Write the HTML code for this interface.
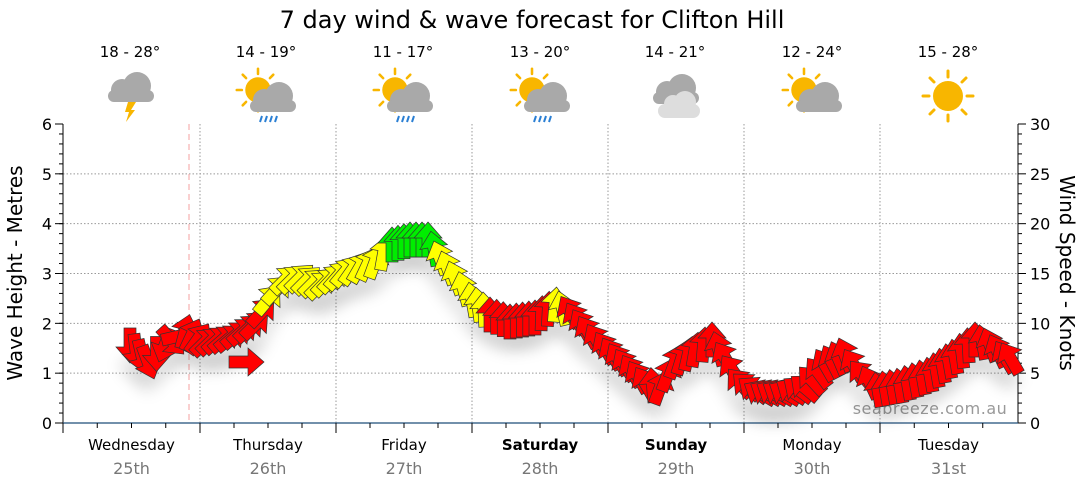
<!DOCTYPE html>
<html><head><meta charset="utf-8"><style>
body{margin:0;background:#fff;width:1080px;height:490px;overflow:hidden}
svg{display:block;font-family:"DejaVu Sans","Liberation Sans",sans-serif}
</style></head><body>
<svg id="s" width="1080" height="490" viewBox="0 0 1080 490">
<defs>
<filter id="sh" x="-50%" y="-50%" width="200%" height="200%"><feGaussianBlur stdDeviation="6"/></filter>
<g id="sun"><circle r="15" fill="#f8b600"/><g stroke="#f8b600" stroke-width="3" stroke-linecap="round">
<line x1="0" y1="-19" x2="0" y2="-25"/><line x1="0" y1="19" x2="0" y2="25"/><line x1="-19" y1="0" x2="-25" y2="0"/><line x1="19" y1="0" x2="25" y2="0"/>
<line x1="14" y1="14" x2="18" y2="18"/><line x1="-14" y1="-14" x2="-18" y2="-18"/><line x1="14" y1="-14" x2="18" y2="-18"/><line x1="-14" y1="14" x2="-18" y2="18"/></g></g>
<g id="cloud" fill="#a9a9a9"><circle cx="-8" cy="0" r="11"/><circle cx="7" cy="-4" r="14"/><rect x="-22" y="0" width="46" height="12" rx="6"/></g>
</defs>
<text x="532" y="28" text-anchor="middle" font-size="24" fill="#000">7 day wind &amp; wave forecast for Clifton Hill</text>
<g id="g"></g>
</svg>
<script>
var s=document.getElementById('g'),h='';
var L=63,R=1018,T=124,B=423;
for(var i=1;i<6;i++){var y=B-i*(B-T)/6;h+='<line x1="'+L+'" x2="'+R+'" y1="'+y+'" y2="'+y+'" stroke="#999" stroke-dasharray="1.5,2"/>';}
var days=[63,200,336,472,608,744,880,1017];
for(var i=1;i<7;i++)h+='<line x1="'+days[i]+'" x2="'+days[i]+'" y1="'+T+'" y2="'+B+'" stroke="#999" stroke-dasharray="1.5,2"/>';
h+='<line x1="189" x2="189" y1="'+T+'" y2="'+B+'" stroke="#f4a0a0" stroke-dasharray="6,4"/>';
h+='<line x1="'+L+'" x2="'+L+'" y1="'+T+'" y2="'+B+'" stroke="#000"/><line x1="'+R+'" x2="'+R+'" y1="'+T+'" y2="'+B+'" stroke="#000"/>';
h+='<line x1="'+L+'" x2="'+R+'" y1="'+B+'" y2="'+B+'" stroke="#1f4e79" stroke-width="1.2"/>';
for(var i=0;i<=6;i++){var y=B-i*(B-T)/6;h+='<text x="52" y="'+(y+6)+'" text-anchor="end" font-size="16">'+i+'</text><line x1="'+(L-8)+'" x2="'+L+'" y1="'+y+'" y2="'+y+'" stroke="#000"/>';}
for(var i=0;i<=30;i++){var y=B-i*(B-T)/30;h+='<line x1="'+(L-4)+'" x2="'+L+'" y1="'+y+'" y2="'+y+'" stroke="#000"/><line x1="'+R+'" x2="'+(R+(i%5?4:8))+'" y1="'+y+'" y2="'+y+'" stroke="#000"/>';
 if(i%5==0)h+='<text x="1030" y="'+(y+6)+'" font-size="16">'+i+'</text>';}
for(var d=0;d<7;d++){for(var q=0;q<4;q++){var x=days[d]+q*(days[d+1]-days[d])/4;h+='<line x1="'+x+'" x2="'+x+'" y1="'+B+'" y2="'+(B+(q?5:10))+'" stroke="#000"/>';}}
var dn=['Wednesday','Thursday','Friday','Saturday','Sunday','Monday','Tuesday'],dd=['25th','26th','27th','28th','29th','30th','31st'];
for(var d=0;d<7;d++){var cx=(days[d]+days[d+1])/2;h+='<text x="'+cx+'" y="450" text-anchor="middle" font-size="15"'+(d==3||d==4?' font-weight="bold"':'')+'>'+dn[d]+'</text><text x="'+cx+'" y="474" text-anchor="middle" font-size="16" fill="#777">'+dd[d]+'</text>';}
h+='<text transform="translate(22,273) rotate(-90)" text-anchor="middle" font-size="20">Wave Height - Metres</text>';
h+='<text transform="translate(1060,273) rotate(90)" text-anchor="middle" font-size="20">Wind Speed - Knots</text>';
h+='<text x="930" y="414" text-anchor="middle" font-size="16" fill="#999" letter-spacing="0.5">seabreeze.com.au</text>';
var temps=['18 - 28°','14 - 19°','11 - 17°','13 - 20°','14 - 21°','12 - 24°','15 - 28°'],cxs=[130,266,403,540,675,812,948];
for(var d=0;d<7;d++){var c=cxs[d];h+='<text x="'+c+'" y="57" text-anchor="middle" font-size="15">'+temps[d]+'</text>';
 if(d==0)h+='<use href="#cloud" transform="translate('+c+',90)"/><polygon points="'+(c-2)+',102 '+(c+6)+',102 '+(c+1)+',110 '+(c+5)+',110 '+(c-4)+',122 '+(c-1)+',112 '+(c-5)+',112" fill="#f8b600"/>';
 else if(d==4)h+='<use href="#cloud" transform="translate('+c+',92)"/><g fill="#ddd"><circle cx="'+(c-2)+'" cy="104" r="9"/><circle cx="'+(c+10)+'" cy="102" r="11"/><rect x="'+(c-17)+'" y="104" width="42" height="14" rx="7"/></g>';
 else if(d==6)h+='<use href="#sun" transform="translate('+c+',96)"/>';
 else {h+='<use href="#sun" transform="translate('+(c-8)+',90) scale(0.85)"/><use href="#cloud" transform="translate('+(c+6)+',100)"/>';
  if(d<4)for(var k=0;k<4;k++)h+='<line x1="'+(c-4+k*5)+'" y1="116" x2="'+(c-6+k*5)+'" y2="122" stroke="#2a7fd4" stroke-width="2"/>';}
}
var P=[[130,345,180,'r'],[148,362,160,'r'],[165,345,200,'r'],[185,332,15,'r'],[205,342,45,'r'],[230,338,50,'r'],[255,325,45,'r'],[268,300,40,'y'],[285,280,45,'y'],[300,278,45,'y'],[320,285,45,'y'],[345,272,40,'y'],[375,262,20,'y'],[392,245,0,'g'],[410,240,0,'g'],[428,240,0,'g'],[440,258,-20,'y'],[455,278,-20,'y'],[472,300,-10,'y'],[490,315,0,'r'],[510,322,0,'r'],[535,318,0,'r'],[555,305,5,'y'],[570,312,-30,'r'],[588,332,-30,'r'],[605,348,-30,'r'],[625,365,-30,'r'],[645,383,-30,'r'],[660,388,20,'r'],[675,362,20,'r'],[695,350,10,'r'],[712,340,0,'r'],[725,358,-30,'r'],[740,383,-40,'r'],[760,393,-60,'r'],[785,393,-60,'r'],[805,388,-50,'r'],[825,365,-30,'r'],[845,355,-20,'r'],[862,375,-40,'r'],[878,390,-10,'r'],[900,386,-10,'r'],[930,375,-10,'r'],[955,357,-10,'r'],[975,340,0,'r'],[990,345,-20,'r'],[1005,357,-30,'r'],[1016,360,-30,'r']];
var col={r:'#ff0000',y:'#ffff00',g:'#00ee00'};
var arr='0,-18 14,-2 6,-2 6,17 -6,17 -6,-2 -14,-2';
var sh='',ar='';
for(var i=0;i<P.length-1;i++){var a=P[i],b=P[i+1],n=Math.max(1,Math.round((b[0]-a[0])/7));
 for(var k=0;k<n;k++){var t=k/n,x=a[0]+(b[0]-a[0])*t,y=a[1]+(b[1]-a[1])*t,r=a[2]+(b[2]-a[2])*t;
  sh+='<circle cx="'+x+'" cy="'+(y+20)+'" r="13" fill="#000" opacity="0.05"/>';
  ar+='<polygon points="'+arr+'" transform="translate('+x.toFixed(1)+','+y.toFixed(1)+') rotate('+r.toFixed(0)+')" fill="'+col[a[3]]+'" stroke="#333" stroke-width="0.7"/>';}}
ar+='<polygon points="'+arr+'" transform="translate(246,362) rotate(90)" fill="#ff0000" stroke="#333" stroke-width="0.7"/>';
h+='<g filter="url(#sh)">'+sh+'</g>'+ar;
s.innerHTML=h;
</script>
</body></html>
